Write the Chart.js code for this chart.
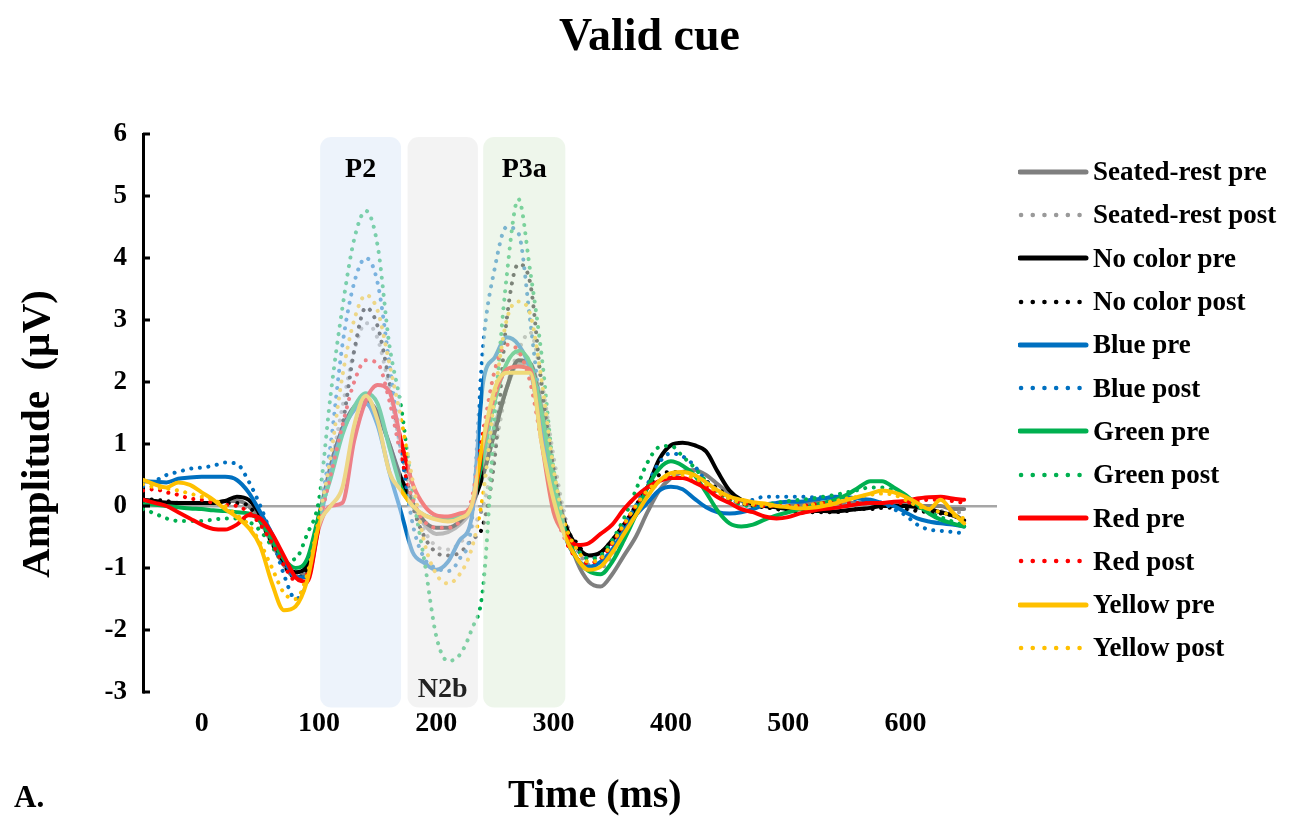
<!DOCTYPE html>
<html>
<head>
<meta charset="utf-8">
<title>Valid cue</title>
<script src="https://cdn.jsdelivr.net/npm/chart.js@4"></script>
<style>
  body { margin: 0; background: #fff; }
  #wrap {
    position: relative; width: 1299px; height: 816px; overflow: hidden;
    font-family: 'Liberation Serif', 'Times New Roman', serif; font-weight: bold; color: #000;
  }
  #chart { position: absolute; left: 0; top: 0; }
  .txt { position: absolute; white-space: nowrap; line-height: 1; }
  #title { left: 0; width: 1299px; top: 12px; text-align: center; font-size: 46px; }
  #xTitle { left: 508px; top: 774px; font-size: 40px; }
  #aLabel { left: 14px; top: 781px; font-size: 31px; }
  #yTitle { left: 35px; top: 434px; font-size: 41px; transform: translate(-50%, -50%) rotate(-90deg); }
  #legend { position: absolute; left: 1018px; top: 150px; }
  .leg-row { display: flex; align-items: center; height: 43.3px; font-size: 27px; }
  .leg-row svg { width: 72px; height: 10px; margin-right: 3px; flex: none; }
</style>
</head>
<body>
<div id="wrap">
  <canvas id="chart" width="1299" height="816"></canvas>
  <div class="txt" id="title">Valid cue</div>
  <div class="txt" id="yTitle">Amplitude&nbsp; (µV)</div>
  <div class="txt" id="xTitle">Time (ms)</div>
  <div class="txt" id="aLabel">A.</div>
  <div id="legend"></div>
</div>
<script>
// Time points (ms)
const times = [-50, -40, -30, -20, -10, 0, 10, 20, 30, 40,
  50, 60, 70, 80, 90, 100, 110, 120, 130, 140,
  150, 160, 170, 180, 190, 200, 210, 220, 230, 240,
  250, 260, 270, 280, 290, 300, 310, 320, 330, 340,
  350, 360, 370, 380, 390, 400, 410, 420, 430, 440,
  450, 460, 470, 480, 490, 500, 510, 520, 530, 540,
  550, 560, 570, 580, 590, 600, 610, 620, 630, 640, 650];

// Amplitudes (µV)
const restPre = [0.10, 0.08, 0.06, 0.05, 0.05, 0.05, 0.05, 0.08, 0.08, 0.0,
  -0.25, -0.6, -0.95, -1.15, -1.0, -0.15, 0.6, 1.2, 1.55, 1.7,
  1.5, 1.0, 0.4, 0.0, -0.3, -0.45, -0.42, -0.3, -0.05, 0.6,
  1.3, 1.9, 2.3, 2.3, 1.6, 0.5, -0.3, -0.9, -1.22, -1.3,
  -1.1, -0.8, -0.5, -0.1, 0.25, 0.45, 0.55, 0.58, 0.5, 0.35,
  0.2, 0.08, 0.02, 0.0, -0.02, 0.0, 0.02, 0.05, 0.05, 0.05,
  0.05, 0.05, 0.05, 0.05, 0.05, 0.02, 0.0, 0.0, 0.0, -0.05, -0.05];
const restPost = [0.10, 0.08, 0.05, 0.05, 0.05, 0.05, 0.05, 0.05, 0.02, -0.05,
  -0.3, -0.65, -0.95, -1.1, -0.95, -0.2, 0.6, 1.6, 2.5, 2.95,
  2.7, 1.9, 0.9, 0.1, -0.4, -0.65, -0.7, -0.6, -0.35, 0.0,
  0.9, 1.9, 2.5, 2.8, 2.0, 0.8, -0.2, -0.7, -0.95, -1.0,
  -0.8, -0.5, -0.15, 0.15, 0.4, 0.5, 0.55, 0.5, 0.4, 0.28,
  0.15, 0.05, 0.0, -0.02, -0.03, -0.02, 0.0, 0.02, 0.03, 0.03,
  0.03, 0.02, 0.0, 0.0, -0.02, -0.05, -0.05, -0.05, -0.08, -0.1, -0.1];
const noColorPre = [0.10, 0.08, 0.05, 0.05, 0.05, 0.05, 0.05, 0.08, 0.15, 0.1,
  -0.15, -0.54, -0.9, -1.07, -0.95, -0.2, 0.65, 1.25, 1.6, 1.7,
  1.5, 1.0, 0.45, 0.05, -0.25, -0.35, -0.35, -0.25, 0.0, 0.5,
  1.2, 1.9, 2.35, 2.3, 1.5, 0.4, -0.3, -0.65, -0.8, -0.75,
  -0.55, -0.3, -0.05, 0.3, 0.75, 0.98, 1.02, 0.98, 0.88, 0.55,
  0.25, 0.1, 0.04, 0.0, -0.02, -0.05, -0.05, -0.08, -0.08, -0.09,
  -0.07, -0.05, -0.03, 0.0, 0.0, 0.0, -0.02, -0.05, -0.1, -0.15, -0.23];
const noColorPost = [0.12, 0.1, 0.08, 0.05, 0.05, 0.05, 0.05, 0.05, 0.05, 0.0,
  -0.25, -0.6, -0.95, -1.15, -1.0, -0.2, 0.5, 1.3, 2.5, 3.2,
  2.9, 2.0, 0.9, 0.0, -0.5, -0.75, -0.8, -0.75, -0.55, -0.3,
  0.8, 3.0, 3.9, 3.6, 1.9, 0.6, -0.3, -0.6, -0.8, -0.75,
  -0.55, -0.3, 0.0, 0.3, 0.5, 0.55, 0.55, 0.5, 0.4, 0.28,
  0.15, 0.05, 0.0, -0.02, -0.05, -0.08, -0.1, -0.1, -0.1, -0.1,
  -0.08, -0.05, -0.05, -0.03, -0.03, -0.05, -0.08, -0.1, -0.12, -0.15, -0.2];
const bluePre = [0.40, 0.39, 0.38, 0.44, 0.46, 0.47, 0.47, 0.47, 0.42, 0.22,
  -0.1, -0.45, -0.85, -1.15, -1.15, -0.3, 0.55, 1.2, 1.55, 1.65,
  1.3, 0.55, -0.1, -0.75, -0.92, -1.03, -0.9, -0.55, -0.2, 2.0,
  2.4, 2.72, 2.6, 2.2, 1.2, 0.2, -0.5, -0.85, -0.98, -0.9,
  -0.7, -0.4, -0.15, 0.05, 0.25, 0.31, 0.27, 0.12, -0.02, -0.1,
  -0.12, -0.1, -0.05, 0.02, 0.05, 0.07, 0.07, 0.1, 0.12, 0.15,
  0.14, 0.12, 0.1, 0.05, 0.0, -0.1, -0.2, -0.25, -0.28, -0.3, -0.33];
const bluePost = [0.32, 0.4, 0.5, 0.55, 0.6, 0.62, 0.65, 0.7, 0.68, 0.4,
  0.0, -0.5, -1.1, -1.5, -1.2, -0.2, 1.0, 2.6, 3.6, 4.0,
  3.6, 2.3, 0.9, -0.3, -0.85, -1.0, -1.05, -0.85, -0.3, 2.6,
  3.85, 4.5, 4.4, 3.0, 1.4, 0.2, -0.4, -0.7, -0.85, -0.8,
  -0.6, -0.3, 0.0, 0.35, 0.7, 0.85, 0.8, 0.65, 0.4, 0.25,
  0.12, 0.05, 0.1, 0.15, 0.15, 0.15, 0.15, 0.14, 0.14, 0.13,
  0.12, 0.1, 0.08, 0.05, -0.05, -0.15, -0.3, -0.38, -0.4, -0.42, -0.44];
const greenPre = [0.03, 0.02, 0.0, -0.02, -0.04, -0.05, -0.07, -0.08, -0.1, -0.12,
  -0.25, -0.55, -0.85, -1.0, -0.85, -0.15, 0.45, 1.15, 1.6, 1.82,
  1.65, 0.95, 0.3, 0.0, -0.15, -0.2, -0.2, -0.15, 0.0, 0.8,
  1.7, 2.3, 2.5, 2.3, 1.5, 0.4, -0.4, -0.85, -1.05, -1.1,
  -0.9, -0.55, -0.15, 0.3, 0.6, 0.72, 0.65, 0.5, 0.22, -0.08,
  -0.28, -0.33, -0.3, -0.22, -0.15, -0.1, -0.05, 0.0, 0.05, 0.1,
  0.18, 0.3, 0.4, 0.4, 0.3, 0.18, 0.02, -0.12, -0.22, -0.28, -0.33];
const greenPost = [-0.05, -0.12, -0.2, -0.24, -0.24, -0.24, -0.22, -0.2, -0.2, -0.25,
  -0.4, -0.65, -0.88, -0.85, -0.45, 0.1, 1.8, 3.2, 4.3, 4.76,
  4.2, 2.6, 1.6, 0.2, -0.9, -2.1, -2.5, -2.4, -2.0, -1.3,
  1.5, 3.7, 4.95, 3.8, 2.4, 0.6, -0.4, -0.7, -0.85, -0.8,
  -0.55, -0.2, 0.25, 0.7, 0.95, 0.97, 0.8, 0.62, 0.4, 0.22,
  0.1, 0.02, 0.0, 0.02, 0.05, 0.08, 0.1, 0.12, 0.15, 0.18,
  0.22, 0.26, 0.3, 0.3, 0.25, 0.15, 0.0, -0.1, -0.18, -0.25, -0.3];
const redPre = [0.1, 0.05, 0.0, -0.1, -0.2, -0.3, -0.37, -0.38, -0.3, -0.15,
  -0.2, -0.45, -0.8, -1.15, -1.22, -0.35, 0.0, 0.05, 1.05, 1.7,
  1.95, 1.85, 1.05, 0.35, 0.0, -0.15, -0.17, -0.12, 0.0, 1.0,
  1.8, 2.2, 2.25, 2.2, 1.0, -0.1, -0.45, -0.63, -0.6, -0.45,
  -0.3, -0.05, 0.15, 0.3, 0.4, 0.45, 0.45, 0.38, 0.28, 0.14,
  0.05, -0.05, -0.1, -0.17, -0.2, -0.18, -0.12, -0.08, -0.05, -0.03,
  0.0, 0.03, 0.05, 0.05, 0.07, 0.08, 0.12, 0.14, 0.15, 0.12, 0.1];
const redPost = [0.25, 0.27, 0.22, 0.18, 0.12, 0.1, 0.05, 0.02, 0.0, -0.1,
  -0.3, -0.6, -0.95, -1.2, -1.1, -0.3, 0.5, 1.3, 2.0, 2.35,
  2.3, 1.7, 0.8, 0.1, -0.25, -0.35, -0.35, -0.25, 0.1, 1.2,
  2.2, 2.6, 2.5, 2.0, 1.0, 0.0, -0.55, -0.85, -0.92, -0.85,
  -0.6, -0.3, 0.0, 0.25, 0.4, 0.45, 0.45, 0.4, 0.32, 0.22,
  0.12, 0.05, 0.02, 0.0, 0.0, 0.0, 0.0, 0.02, 0.05, 0.05,
  0.05, 0.05, 0.05, 0.05, 0.05, 0.05, 0.08, 0.1, 0.1, 0.08, 0.05];
const yellowPre = [0.42, 0.35, 0.3, 0.38, 0.34, 0.22, 0.1, -0.05, -0.18, -0.35,
  -0.65, -1.25, -1.68, -1.62, -1.2, -0.3, 0.0, 0.3, 1.3, 1.78,
  1.38, 0.55, 0.25, 0.0, -0.15, -0.22, -0.25, -0.2, 0.0, 1.06,
  1.9, 2.15, 2.15, 2.15, 1.0, 0.1, -0.5, -0.85, -1.03, -0.98,
  -0.75, -0.45, -0.15, 0.15, 0.4, 0.53, 0.55, 0.5, 0.38, 0.25,
  0.15, 0.1, 0.06, 0.04, 0.0, -0.02, -0.04, -0.03, 0.0, 0.04,
  0.1, 0.15, 0.2, 0.25, 0.22, 0.15, 0.05, -0.05, 0.1, -0.1, -0.28];
const yellowPost = [0.35, 0.3, 0.28, 0.25, 0.2, 0.15, 0.1, 0.0, -0.15, -0.3,
  -0.6, -1.0, -1.4, -1.5, -1.1, -0.2, 0.8, 2.1, 3.0, 3.4,
  3.15, 2.3, 1.4, 0.4, -0.6, -1.1, -1.25, -1.1, -0.7, 0.2,
  1.8, 3.0, 3.3, 3.1, 2.0, 0.6, -0.3, -0.7, -0.9, -0.85,
  -0.6, -0.3, 0.0, 0.25, 0.4, 0.5, 0.5, 0.45, 0.35, 0.22,
  0.12, 0.05, 0.02, 0.0, 0.0, 0.0, 0.0, 0.02, 0.05, 0.08,
  0.12, 0.15, 0.18, 0.2, 0.18, 0.1, 0.0, -0.05, -0.1, -0.15, -0.2];

const seriesNames = ['Seated-rest pre', 'Seated-rest post', 'No color pre', 'No color post',
  'Blue pre', 'Blue post', 'Green pre', 'Green post', 'Red pre', 'Red post',
  'Yellow pre', 'Yellow post'];
const seriesValues = [restPre, restPost, noColorPre, noColorPost, bluePre, bluePost,
  greenPre, greenPost, redPre, redPost, yellowPre, yellowPost];

// Axis ticks
const xTickValues = [0, 100, 200, 300, 400, 500, 600];

// ERP component windows (ms)
const windowNames = ['P2', 'N2b', 'P3a'];
const windowStart = [101, 175.5, 240];
const windowEnd = [170, 235.5, 310];

// Styles
const seriesColors = ['#7F7F7F', '#9A9A9A', '#000000', '#000000', '#0070C0', '#0070C0',
  '#00B050', '#00B050', '#FF0000', '#FF0000', '#FFC000', '#FFC000'];
const windowFills = ['rgba(222, 233, 248, 0.55)', 'rgba(234, 234, 234, 0.55)', 'rgba(224, 238, 218, 0.55)'];
const serif = "'Liberation Serif', 'Times New Roman', serif";

Chart.defaults.font.family = serif;
Chart.defaults.font.weight = 'bold';
Chart.defaults.color = '#000';

// Shaded component windows drawn over the lines, plus inner ticks on the y axis
const windowPlugin = {
  id: 'componentWindows',
  afterDatasetsDraw(chart) {
    const { ctx, scales: { x, y } } = chart;
    const top = y.getPixelForValue(5.95);
    const bottom = y.getPixelForValue(-3.25);
    ctx.save();
    windowNames.forEach((name, i) => {
      const left = x.getPixelForValue(windowStart[i]);
      const right = x.getPixelForValue(windowEnd[i]);
      ctx.fillStyle = windowFills[i];
      ctx.beginPath();
      ctx.roundRect(left, top, right - left, bottom - top, 11);
      ctx.fill();
    });
    ctx.font = 'bold 28px ' + serif;
    ctx.textAlign = 'center';
    ctx.textBaseline = 'middle';
    windowNames.forEach((name, i) => {
      const cx = (x.getPixelForValue(windowStart[i]) + x.getPixelForValue(windowEnd[i])) / 2;
      const ty = name === 'N2b' ? bottom - 18 : top + 33;
      ctx.fillStyle = name === 'N2b' ? '#222' : '#000';
      ctx.fillText(name, cx, ty);
    });
    ctx.restore();
  },
  afterDraw(chart) {
    const { ctx, scales: { y } } = chart;
    ctx.save();
    ctx.strokeStyle = '#000';
    ctx.lineWidth = 3;
    y.ticks.forEach(t => {
      const py = y.getPixelForValue(t.value);
      ctx.beginPath();
      ctx.moveTo(y.right, py);
      ctx.lineTo(y.right + 7, py);
      ctx.stroke();
    });
    ctx.restore();
  }
};

const datasets = seriesNames.map((name, i) => {
  const dotted = name.endsWith('post');
  return {
    label: name,
    data: times.map((t, k) => ({ x: t, y: seriesValues[i][k] })),
    borderColor: seriesColors[i],
    borderWidth: 4,
    borderDash: dotted ? [0.1, 8.5] : [],
    borderCapStyle: 'round',
    borderJoinStyle: 'round',
    pointRadius: 0,
    fill: false,
    cubicInterpolationMode: 'monotone',
    order: seriesNames.length - i
  };
});

new Chart(document.getElementById('chart'), {
  type: 'line',
  data: { datasets },
  options: {
    responsive: false,
    devicePixelRatio: 1,
    animation: false,
    layout: { padding: { left: 0, top: 134, right: 302, bottom: 0 } },
    plugins: { legend: { display: false }, tooltip: { enabled: false } },
    scales: {
      x: {
        type: 'linear',
        min: -50,
        max: 678,
        afterFit: s => { s.height = 124; },
        afterBuildTicks: s => { s.ticks = xTickValues.map(v => ({ value: v })); },
        grid: { display: false, drawTicks: false },
        border: { display: false },
        ticks: { font: { size: 28, weight: 'bold' }, padding: 15, maxRotation: 0, autoSkip: false }
      },
      y: {
        min: -3,
        max: 6,
        afterFit: s => { s.width = 143; },
        ticks: { stepSize: 1, font: { size: 27, weight: 'bold' }, padding: 16 },
        grid: {
          drawTicks: false,
          color: ctx => (ctx.tick && ctx.tick.value === 0 ? '#A6A6A6' : 'rgba(0,0,0,0)'),
          lineWidth: 2.5
        },
        border: { display: true, color: '#000', width: 3 }
      }
    }
  },
  plugins: [windowPlugin]
});

// Legend
const legend = document.getElementById('legend');
seriesNames.forEach((name, i) => {
  const dotted = name.endsWith('post');
  const row = document.createElement('div');
  row.className = 'leg-row';
  const line = dotted
    ? `<line x1="3" y1="5" x2="66" y2="5" stroke="${seriesColors[i]}" stroke-width="4.5" stroke-linecap="round" stroke-dasharray="0.1 11.6"/>`
    : `<line x1="2" y1="5" x2="68" y2="5" stroke="${seriesColors[i]}" stroke-width="5" stroke-linecap="round"/>`;
  row.innerHTML = `<svg viewBox="0 0 72 10">${line}</svg><span>${name}</span>`;
  legend.appendChild(row);
});
</script>
</body>
</html>
